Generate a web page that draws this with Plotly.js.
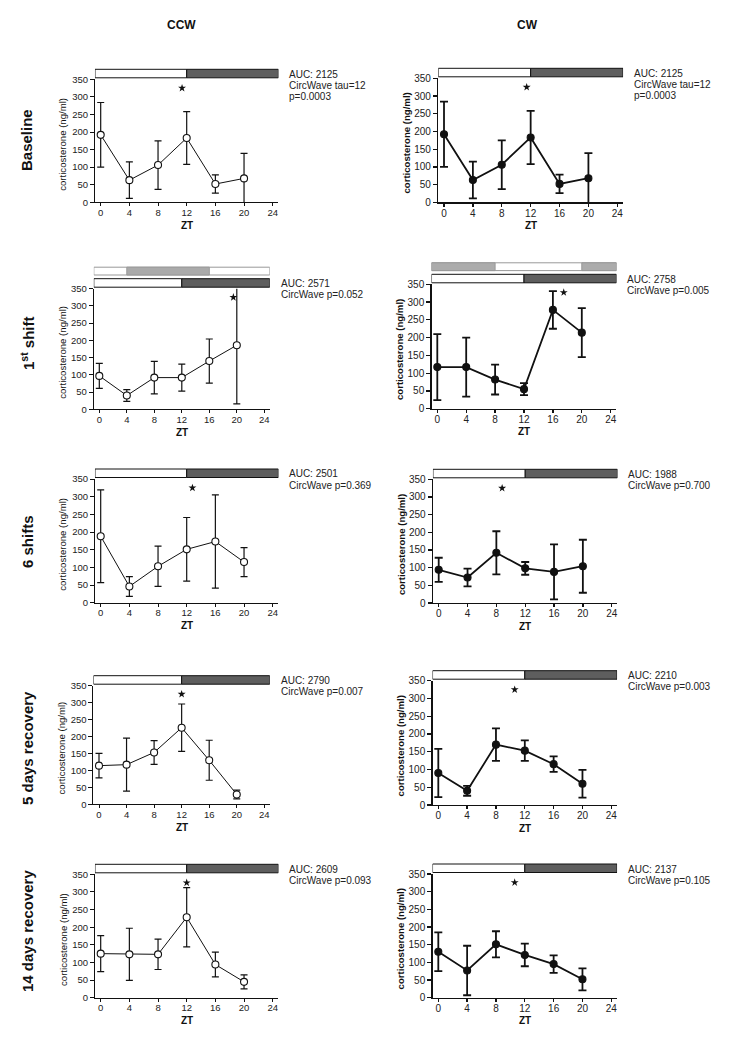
<!DOCTYPE html>
<html>
<head>
<meta charset="utf-8">
<script src="https://cdn.plot.ly/plotly-3.0.1.min.js"></script>
<style>
  body { margin: 0; background: #fff; }
  #graph { width: 734px; height: 1050px; }
</style>
</head>
<body>
<div id="graph"></div>
<script>
// ---- data (mean ± error, ng/ml) ----
const zt = [0, 4, 8, 12, 16, 20];
const ztTicks = [0, 4, 8, 12, 16, 20, 24];

const ccwBaseline = [192, 63, 106, 183, 52, 68];
const ccwBaselineErr = [92, 52, 69, 75, 26, 71];
const cwBaseline = [192, 63, 106, 183, 52, 68];
const cwBaselineErr = [92, 52, 69, 75, 26, 71];

const ccwShift1 = [97, 40, 92, 92, 140, 186];
const ccwShift1Err = [36, 17, 47, 39, 64, 170];
const cwShift1 = [117, 117, 82, 55, 278, 214];
const cwShift1Err = [93, 83, 42, 17, 53, 69];

const ccwShift6 = [188, 46, 103, 151, 173, 115];
const ccwShift6Err = [131, 28, 57, 90, 132, 41];
const cwShift6 = [94, 72, 142, 98, 88, 104];
const cwShift6Err = [34, 25, 61, 18, 78, 75];

const ccwRec5 = [114, 117, 153, 226, 130, 29];
const ccwRec5Err = [36, 78, 35, 70, 59, 13];
const cwRec5 = [90, 40, 170, 153, 115, 60];
const cwRec5Err = [68, 14, 46, 29, 22, 39];

const ccwRec14 = [125, 123, 123, 228, 94, 45];
const ccwRec14Err = [51, 74, 43, 84, 35, 20];
const cwRec14 = [130, 77, 151, 121, 95, 52];
const cwRec14Err = [55, 70, 37, 32, 25, 31];

// CircWave peak markers (ZT, ng/ml)
const starCcwBaseline = [11.35, 325];
const starCwBaseline = [11.45, 325];
const starCcwShift1 = [19.5, 325];
const starCwShift1 = [17.5, 327];
const starCcwShift6 = [12.8, 325];
const starCwShift6 = [8.8, 325];
const starCcwRec5 = [12, 325];
const starCwRec5 = [10.6, 325];
const starCcwRec14 = [12, 326];
const starCwRec14 = [10.6, 326];

const statsBaseline = ['AUC: 2125', 'CircWave tau=12', 'p=0.0003'];
const statsCcwShift1 = ['AUC: 2571', 'CircWave p=0.052'];
const statsCwShift1 = ['AUC: 2758', 'CircWave p=0.005'];
const statsCcwShift6 = ['AUC: 2501', 'CircWave p=0.369'];
const statsCwShift6 = ['AUC: 1988', 'CircWave p=0.700'];
const statsCcwRec5 = ['AUC: 2790', 'CircWave p=0.007'];
const statsCwRec5 = ['AUC: 2210', 'CircWave p=0.003'];
const statsCcwRec14 = ['AUC: 2609', 'CircWave p=0.093'];
const statsCwRec14 = ['AUC: 2137', 'CircWave p=0.105'];

// light/dark schedule (ZT)
const lightsOff = 12;
const ccwShiftDark = [4, 16];
const cwShiftLight = [8, 20];

const columns = ['CCW', 'CW'];
const rows = ['Baseline', '1<sup>st</sup> shift', '6 shifts', '5 days recovery', '14 days recovery'];

// ---- page geometry ----
const W = 734, H = 1050;
const XR = [-0.8, 24.8];
const FONT = 'Arial, "Liberation Sans", sans-serif';
const px = x => x / W;
const py = y => 1 - y / H;

// geo: pixel of ZT0, pixel of ZT24, pixel of 350, pixel of 0
const panels = [
  {cw: false, y: ccwBaseline, e: ccwBaselineErr, star: starCcwBaseline, stats: statsBaseline, geo: [100.7, 272.7, 79.3, 202.3]},
  {cw: true, y: cwBaseline, e: cwBaselineErr, star: starCwBaseline, stats: statsBaseline, geo: [444, 617.3, 78.3, 202.3]},
  {cw: false, y: ccwShift1, e: ccwShift1Err, star: starCcwShift1, stats: statsCcwShift1, geo: [99.3, 264.3, 288.7, 409.3], shift: 'ccw'},
  {cw: true, y: cwShift1, e: cwShift1Err, star: starCwShift1, stats: statsCwShift1, geo: [437.3, 610.7, 284.3, 408.7], shift: 'cw'},
  {cw: false, y: ccwShift6, e: ccwShift6Err, star: starCcwShift6, stats: statsCcwShift6, geo: [100.7, 272.7, 479, 602.7]},
  {cw: true, y: cwShift6, e: cwShift6Err, star: starCwShift6, stats: statsCwShift6, geo: [438.7, 611.7, 479.3, 603]},
  {cw: false, y: ccwRec5, e: ccwRec5Err, star: starCcwRec5, stats: statsCcwRec5, geo: [99, 264.3, 685.7, 804.3]},
  {cw: true, y: cwRec5, e: cwRec5Err, star: starCwRec5, stats: statsCwRec5, geo: [438.3, 611.3, 680.7, 805]},
  {cw: false, y: ccwRec14, e: ccwRec14Err, star: starCcwRec14, stats: statsCcwRec14, geo: [100.7, 272.7, 874.3, 997.7]},
  {cw: true, y: cwRec14, e: cwRec14Err, star: starCwRec14, stats: statsCwRec14, geo: [438.3, 611.3, 874, 997.7]}
];

const data = [], shapes = [], annotations = [];
const layout = {
  width: W, height: H,
  margin: {l: 0, r: 0, t: 0, b: 0},
  paper_bgcolor: '#fff', plot_bgcolor: '#fff',
  font: {family: FONT, color: '#111'},
  showlegend: false,
  shapes: shapes,
  annotations: annotations
};

function ldBar(xa, ya, h, xr, off, fill, line) {
  shapes.push({
    type: 'rect', xref: xa, yref: ya + ' domain',
    x0: xr[0], x1: xr[1], y0: 1 + off[0] / h, y1: 1 + off[1] / h,
    fillcolor: fill, line: {color: line, width: 1}, layer: 'above'
  });
}

panels.forEach((p, i) => {
  const n = i + 1;
  const xa = n === 1 ? 'x' : 'x' + n;
  const ya = n === 1 ? 'y' : 'y' + n;
  const [x0, x24, top, bottom] = p.geo;
  const s = (x24 - x0) / 24;
  const left = x0 + XR[0] * s, right = x0 + XR[1] * s;
  const h = bottom - top;
  const lw = p.cw ? 1.8 : 1;
  const tickFont = {family: FONT, size: p.cw ? 10 : 9.5, color: '#222'};

  layout['xaxis' + (n === 1 ? '' : n)] = {
    domain: [px(left), px(right)], anchor: ya, range: XR,
    tickvals: ztTicks, ticks: 'outside', ticklen: 3, tickcolor: '#111', tickwidth: p.cw ? 1.3 : 1,
    ticklabelstandoff: -2,
    showline: true, linecolor: '#111', linewidth: p.cw ? 1.3 : 1,
    showgrid: false, zeroline: false, tickfont: tickFont, fixedrange: true
  };
  layout['yaxis' + (n === 1 ? '' : n)] = {
    domain: [py(bottom), py(top)], anchor: xa, range: [0, 350], dtick: 50,
    ticks: 'outside', ticklen: 4, tickcolor: '#111', tickwidth: p.cw ? 1.3 : 1,
    showline: true, linecolor: '#111', linewidth: p.cw ? 1.3 : 1,
    showgrid: false, zeroline: false, tickfont: tickFont, fixedrange: true
  };

  data.push({
    type: 'scatter', mode: 'lines+markers', x: zt, y: p.y, xaxis: xa, yaxis: ya,
    cliponaxis: false, hoverinfo: 'skip',
    line: {color: '#111', width: lw},
    marker: {symbol: 'circle', size: 7, color: p.cw ? '#111' : '#fff', line: {color: '#111', width: 1.1}},
    error_y: {type: 'data', array: p.e, visible: true, color: '#111', thickness: p.cw ? 1.8 : 1.2, width: p.cw ? 4 : 3.5}
  });
  data.push({
    type: 'scatter', mode: 'markers', x: [p.star[0]], y: [p.star[1]], xaxis: xa, yaxis: ya,
    cliponaxis: false, hoverinfo: 'skip',
    marker: {symbol: 'star', size: 6, color: '#111', line: {width: 0}}
  });

  // light / dark bars above the plot
  ldBar(xa, ya, h, [XR[0], lightsOff], [1.5, 10], '#fff', '#111');
  ldBar(xa, ya, h, [lightsOff, XR[1]], [1.5, 10], '#5e5e5e', '#111');
  if (p.shift === 'ccw') {
    ldBar(xa, ya, h, XR, [13.7, 21.5], '#fff', '#999');
    ldBar(xa, ya, h, ccwShiftDark, [13.7, 21.5], '#aaa', '#999');
  } else if (p.shift === 'cw') {
    ldBar(xa, ya, h, XR, [13.7, 21.5], '#fff', '#999');
    ldBar(xa, ya, h, [XR[0], cwShiftLight[0]], [13.7, 21.5], '#acacac', '#999');
    ldBar(xa, ya, h, [cwShiftLight[1], XR[1]], [13.7, 21.5], '#acacac', '#999');
  }

  // y title, x title, stats text
  annotations.push({
    xref: 'paper', yref: 'paper', x: px(left - 32), y: py((top + bottom) / 2 + 3),
    text: 'corticosterone (ng/ml)', textangle: -90, showarrow: false,
    xanchor: 'center', yanchor: 'middle',
    font: {family: FONT, size: 9.6, color: '#111', weight: p.cw ? 'bold' : 'normal'}
  });
  annotations.push({
    xref: xa, yref: 'paper', x: 12, y: py(bottom + 23), text: '<b>ZT</b>', showarrow: false,
    xanchor: 'center', yanchor: 'middle', font: {family: FONT, size: 10, color: '#111'}
  });
  p.stats.forEach((t, k) => {
    annotations.push({
      xref: 'paper', yref: 'paper', x: px(right + 9), y: py(top - 5 + k * 11), text: t,
      showarrow: false, xanchor: 'left', yanchor: 'middle',
      font: {family: FONT, size: 10, color: '#222'}
    });
  });
});

// column headers
[181, 527].forEach((x, k) => {
  annotations.push({
    xref: 'paper', yref: 'paper', x: px(x), y: py(25), text: '<b>' + columns[k] + '</b>',
    showarrow: false, xanchor: 'center', yanchor: 'middle', font: {family: FONT, size: 12, color: '#111'}
  });
});

// row labels
[140, 343, 542, 748, 931].forEach((y, k) => {
  annotations.push({
    xref: 'paper', yref: 'paper', x: px(27), y: py(y), text: '<b>' + rows[k] + '</b>',
    textangle: -90, showarrow: false, xanchor: 'center', yanchor: 'middle',
    font: {family: FONT, size: 15, color: '#111'}
  });
});

Plotly.newPlot('graph', data, layout, {displayModeBar: false, staticPlot: true});
</script>
</body>
</html>
